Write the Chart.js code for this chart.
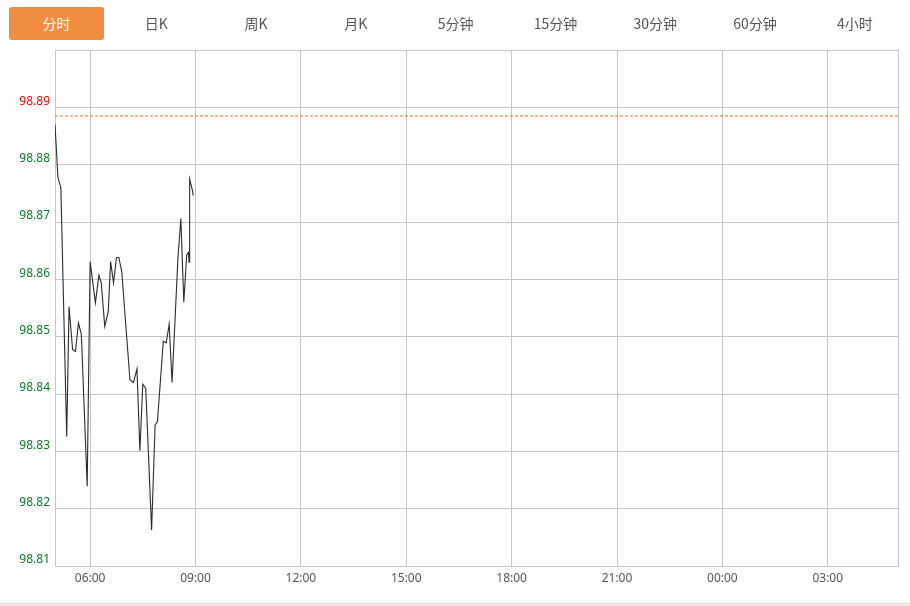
<!DOCTYPE html>
<html>
<head>
<meta charset="utf-8">
<script src="https://cdn.jsdelivr.net/npm/chart.js@4.4.1/dist/chart.umd.min.js"></script>
<style>
    body { margin: 0; background: #fff; font-family: "Noto Sans CJK SC", "Noto Sans", sans-serif; }
    #wrap { position: relative; width: 910px; height: 606px; overflow: hidden; }
    #grafico { position: absolute; left: 0; top: 0; }
    .tab { position: absolute; top: 7px; width: 95px; height: 33px; line-height: 33px; text-align: center;
           font-size: 14px; color: #555; }
    .tab.activo { background: #f28c3f; color: #fff; border-radius: 3px; }
    #pie { position: absolute; left: 0; top: 603px; width: 910px; height: 3px; background: #e6e6e6; }
</style>
</head>
<body>
<div id="wrap">
    <canvas id="grafico" width="910" height="606"></canvas>
    <div id="tabs"></div>
    <div id="pie"></div>
</div>
<script>
// pestañas de periodo
const tabNames = ['分时', '日K', '周K', '月K', '5分钟', '15分钟', '30分钟', '60分钟', '4小时'];

// datos del minuto (hora, precio)
const timeLabels = ['05:00', '05:05', '05:10', '05:20', '05:24', '05:30', '05:35', '05:40', '05:45', '05:55',
    '06:00', '06:09', '06:15', '06:19', '06:25', '06:31', '06:35', '06:40', '06:45', '06:49', '06:54',
    '07:08', '07:14', '07:20', '07:25', '07:30', '07:35', '07:45', '07:51', '07:55',
    '08:05', '08:10', '08:15', '08:20', '08:30', '08:35', '08:40', '08:45', '08:48', '08:49', '08:50', '08:55', '08:56'];
const prices = [98.8870, 98.8778, 98.8760, 98.8326, 98.8552, 98.8478, 98.8474, 98.8524, 98.8504, 98.8239,
    98.8631, 98.8559, 98.8607, 98.8594, 98.8518, 98.8544, 98.8631, 98.8594, 98.8638, 98.8638, 98.8614,
    98.8425, 98.8420, 98.8444, 98.8301, 98.8417, 98.8410, 98.8163, 98.8346, 98.8352,
    98.8492, 98.8489, 98.8522, 98.8420, 98.8637, 98.8706, 98.8560, 98.8643, 98.8647, 98.8630, 98.8775, 98.8754, 98.8746];

const prevClose = 98.8885;

const yTicks = [98.81, 98.82, 98.83, 98.84, 98.85, 98.86, 98.87, 98.88, 98.89];
const xTickLabels = ['06:00', '09:00', '12:00', '15:00', '18:00', '21:00', '00:00', '03:00'];

// minutos desde las 05:00 (la sesión dura 24h)
function toMin(hhmm) {
    const [h, m] = hhmm.split(':').map(Number);
    return (h * 60 + m - 300 + 1440) % 1440;
}

const tabs = document.getElementById('tabs');
tabNames.forEach((name, i) => {
    const d = document.createElement('div');
    d.className = 'tab' + (i === 0 ? ' activo' : '');
    d.style.left = (9 + i * 99.8) + 'px';
    d.textContent = name;
    tabs.appendChild(d);
});

// marco alrededor del área del gráfico
const marcoPlugin = {
    id: 'marco',
    beforeDatasetsDraw(chart) {
        const a = chart.chartArea;
        const ctx = chart.ctx;
        ctx.save();
        ctx.strokeStyle = '#c4c4c4';
        ctx.lineWidth = 1;
        ctx.strokeRect(Math.round(a.left) + 0.5, Math.round(a.top) + 0.5,
            Math.round(a.right - a.left), Math.round(a.bottom - a.top));
        ctx.restore();
    }
};

try {
    const ctx = document.getElementById('grafico');
    new Chart(ctx, {
        type: 'line',
        data: {
            datasets: [{
                label: 'precio',
                data: timeLabels.map((t, i) => ({ x: toMin(t), y: prices[i] })),
                borderColor: '#2b2b2b',
                borderWidth: 1.1,
                pointRadius: 0,
                tension: 0,
                fill: false
            }, {
                label: 'cierre',
                data: [{ x: 0, y: prevClose }, { x: 1440, y: prevClose }],
                borderColor: '#ff6a00',
                borderWidth: 1,
                borderDash: [3, 2],
                pointRadius: 0,
                fill: false
            }]
        },
        options: {
            responsive: false,
            animation: false,
            devicePixelRatio: 1,
            layout: { padding: { top: 50, right: 12, left: 0, bottom: 0 } },
            plugins: { legend: { display: false }, tooltip: { enabled: false } },
            scales: {
                x: {
                    type: 'linear',
                    bounds: 'data',
                    min: 0,
                    max: 1440,
                    afterBuildTicks: s => { s.ticks = xTickLabels.map(t => ({ value: toMin(t) })); },
                    afterFit: s => { s.height = 40; },
                    grid: { color: '#c4c4c4', drawTicks: false },
                    border: { color: '#c4c4c4' },
                    ticks: {
                        padding: 5,
                        color: '#555',
                        font: { size: 12, family: 'Noto Sans' },
                        maxRotation: 0,
                        autoSkip: false,
                        callback: (v, i) => xTickLabels[i]
                    }
                },
                y: {
                    bounds: 'data',
                    min: 98.81,
                    max: 98.9,
                    afterBuildTicks: s => { s.ticks = yTicks.map(v => ({ value: v })); },
                    afterFit: s => { s.width = 55; },
                    grid: { color: '#c4c4c4', drawTicks: false },
                    border: { color: '#c4c4c4' },
                    ticks: {
                        padding: 5,
                        labelOffset: -6,
                        autoSkip: false,
                        font: { size: 12, family: 'Noto Sans' },
                        color: c => (c.tick.value > prevClose ? '#ff0000' : '#0b7a2a'),
                        callback: v => v.toFixed(2)
                    }
                }
            }
        },
        plugins: [marcoPlugin]
    });
    console.log('Gráfico creado');
} catch (error) {
    console.error('Error al crear el gráfico:', error);
}
</script>
</body>
</html>
